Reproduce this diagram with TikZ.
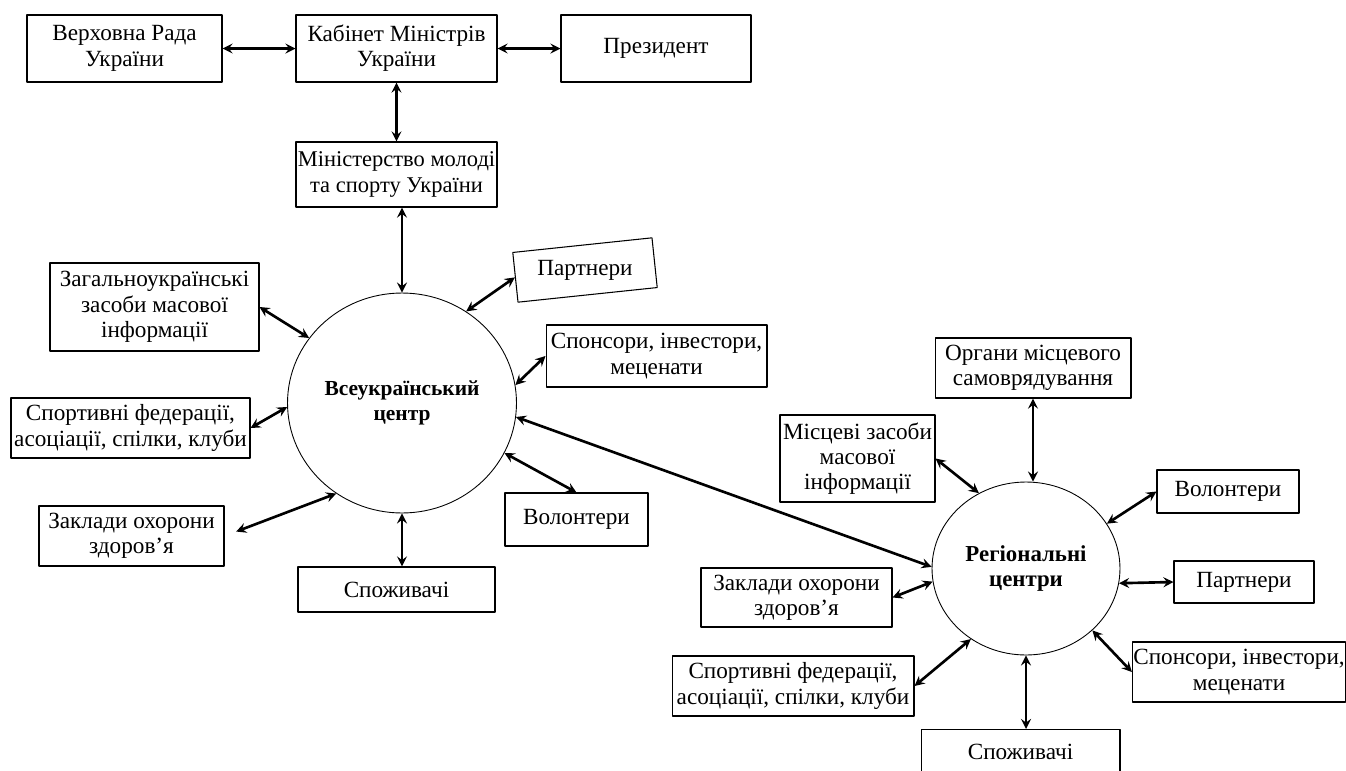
\documentclass[tikz,border=0pt]{standalone}
\usepackage{fontspec}
\setmainfont{Liberation Serif}
\usetikzlibrary{shapes.geometric}
\begin{document}
\begin{tikzpicture}[x=0.02cm,y=-0.02cm,>=stealth,line join=round,
	font=\fontsize{13.2}{14.4}\selectfont,
	box/.style={draw,line width=0.6pt,align=center,inner sep=0.5pt},
	centr/.style={draw,ellipse,line width=0.5pt,inner sep=0pt,align=center,font=\fontsize{12.2}{14.4}\selectfont\bfseries},
	lnk/.style={<->,line width=1.5pt}]
	\useasboundingbox (0,0) rectangle (1346,771);
	\clip (0,0) rectangle (1346,771);
	% top
	\node[box,minimum width=3.9cm,minimum height=1.34cm] (rada) at (124.5,48.5) {Верховна Рада\\України};
	\node[box,minimum width=4.02cm,minimum height=1.34cm] (kabmin) at (396.5,48.5) {Кабінет Міністрів\\України};
	\node[box,minimum width=3.8cm,minimum height=1.34cm] (prez) at (656,48.5) {Президент};
	\node[box,minimum width=4.02cm,minimum height=1.3cm,font=\fontsize{12.8}{14.4}\selectfont] (minsport) at (396.5,174.5) {Міністерство молоді\\та спорту України};
	% all-ukrainian centre
	\node[centr,minimum width=4.58cm,minimum height=4.4cm] (vseukr) at (402,403) {Всеукраїнський\\центр};
	\node[box,minimum width=4.18cm,minimum height=1.76cm] (zmi) at (154.5,307) {Загальноукраїнські\\засоби масової\\інформації};
	\node[box,minimum width=4.78cm,minimum height=1.2cm] (fed) at (130.5,428) {Спортивні федерації,\\асоціації, спілки, клуби};
	\node[box,minimum width=3.7cm,minimum height=1.2cm] (zoz) at (131.5,536) {Заклади охорони\\здоров’я};
	\node[box,minimum width=3.94cm,minimum height=0.9cm] (spozh) at (396.5,589.5) {Споживачі};
	\node[box,minimum width=2.86cm,minimum height=1.06cm] (volont) at (576.5,519.5) {Волонтери};
	\node[box,minimum width=4.42cm,minimum height=1.24cm] (sponsor) at (656.5,356) {Спонсори, інвестори,\\меценати};
	\node[box,rotate=6,minimum width=2.8cm,minimum height=1cm] (partn) at (585,270) {\rotatebox{-6}{Партнери}};
	% regional centres
	\node[centr,minimum width=3.76cm,minimum height=3.46cm,font=\fontsize{13}{14.4}\selectfont\bfseries] (region) at (1026,568.5) {Регіональні\\центри};
	\node[box,minimum width=3.92cm,minimum height=1.2cm] (organy) at (1033,368) {Органи місцевого\\самоврядування};
	\node[box,minimum width=3.1cm,minimum height=1.74cm] (rzmi) at (857.5,458.5) {Місцеві засоби\\масової\\інформації};
	\node[box,minimum width=2.84cm,minimum height=0.86cm] (rvolont) at (1228,491.5) {Волонтери};
	\node[box,minimum width=2.8cm,minimum height=0.84cm] (rpartn) at (1244,582) {Партнери};
	\node[box,minimum width=4.26cm,minimum height=1.2cm] (rsponsor) at (1239,672) {Спонсори, інвестори,\\меценати};
	\node[box,minimum width=3.82cm,minimum height=1.18cm] (rzoz) at (796.5,597.5) {Заклади охорони\\здоров’я};
	\node[box,minimum width=4.84cm,minimum height=1.2cm] (rfed) at (793,686) {Спортивні федерації,\\асоціації, спілки, клуби};
	\node[box,minimum width=3.98cm,minimum height=0.9cm] (rspozh) at (1020.5,752) {Споживачі};
	% links
	\draw[lnk] (rada.east) -- (kabmin.west);
	\draw[lnk] (kabmin.east) -- (prez.west);
	\draw[lnk] (kabmin.south) -- (minsport.north);
	\draw[lnk] (vseukr.north |- minsport.south) -- (vseukr.north);
	\draw[lnk] (zmi.east) -- (vseukr.145);
	\draw[lnk] (fed.east) -- (vseukr.182);
	\draw[lnk,shorten <=0.25cm] (zoz.east) -- (vseukr.234);
	\draw[lnk] (vseukr.south) -- (vseukr.south |- spozh.north);
	\draw[lnk] (vseukr.334) -- (volont.north);
	\draw[lnk] (vseukr.9) -- (sponsor.west);
	\draw[lnk] (vseukr.55) -- (partn.west);
	\draw[lnk] (vseukr.353) -- (region.179);
	\draw[lnk] (organy.south) -- (organy.south |- region.north);
	\draw[lnk] (rzmi.east) -- (region.122);
	\draw[lnk] (region.29) -- (rvolont.west);
	\draw[lnk] (region.351) -- (rpartn.west);
	\draw[lnk] (region.317) -- (rsponsor.west);
	\draw[lnk] (region.south) -- (region.south |- rspozh.north);
	\draw[lnk] (rfed.east) -- (region.232);
	\draw[lnk] (rzoz.east) -- (region.188);
\end{tikzpicture}
\end{document}
